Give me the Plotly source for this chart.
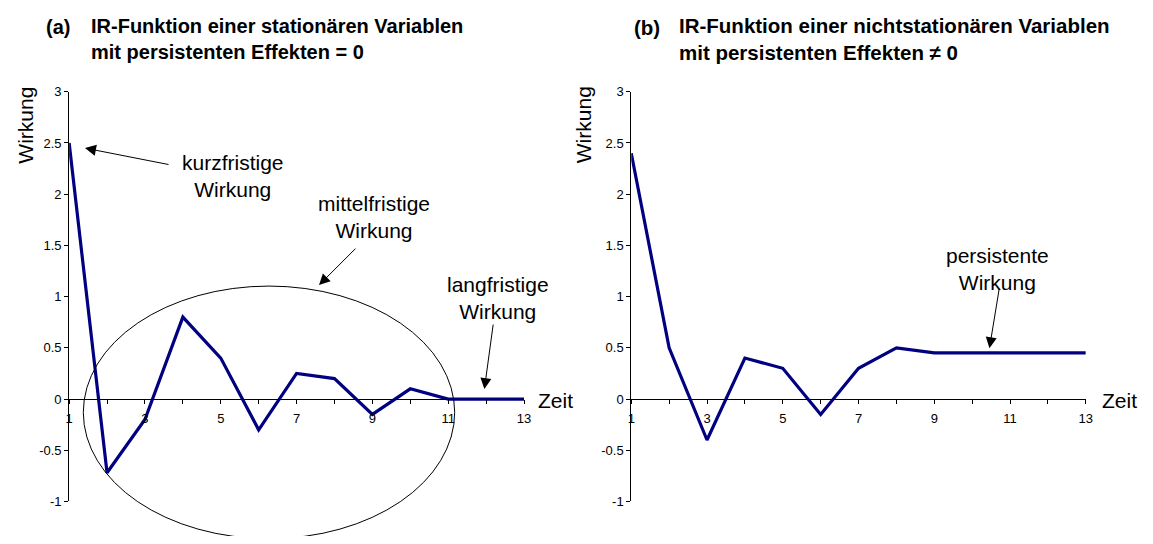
import plotly.graph_objects as go
from plotly.subplots import make_subplots

# Data
zeit = list(range(1, 14))
wirkung_stationaer = [2.5, -0.72, -0.2, 0.8, 0.4, -0.3, 0.25, 0.2, -0.15, 0.1, 0.0, 0.0, 0.0]
wirkung_nichtstationaer = [2.4, 0.5, -0.4, 0.4, 0.3, -0.15, 0.3, 0.5, 0.45, 0.45, 0.45, 0.45, 0.45]

x_tickvals = list(range(1, 14))
x_ticktext = ["1", "", "3", "", "5", "", "7", "", "9", "", "11", "", "13"]
y_tickvals = [-1, -0.5, 0, 0.5, 1, 1.5, 2, 2.5, 3]
y_ticktext = ["-1", "-0.5", "0", "0.5", "1", "1.5", "2", "2.5", "3"]

# the page body keeps its default 8px margin, so the figure is sized to fit
# inside the window and all positions below are given in window pixels
OFF = 8
W, H = 1153 - 2 * OFF, 544 - 2 * OFF
FONT = "Arial, Liberation Sans, sans-serif"
LINE_COLOR = "#000080"


def px(x):
    return (x - OFF) / W


def py(y):
    return 1 - (y - OFF) / H


fig = make_subplots(rows=1, cols=2)

fig.add_trace(
    go.Scatter(x=zeit, y=wirkung_stationaer, mode="lines",
               line=dict(color=LINE_COLOR, width=3.2), showlegend=False),
    row=1, col=1,
)
fig.add_trace(
    go.Scatter(x=zeit, y=wirkung_nichtstationaer, mode="lines",
               line=dict(color=LINE_COLOR, width=3.2), showlegend=False),
    row=1, col=2,
)

# plot areas: left 65.7..525, right 633.3..1092.3, y=3 at 87, y=-1 at 508.7
y_dom = [py(508.7), py(87)]
zero_pos = y_dom[0] + 0.25 * (y_dom[1] - y_dom[0])

axis_common = dict(
    showline=True, linecolor="black", linewidth=1,
    ticks="outside", ticklen=4, tickcolor="black", tickwidth=1,
    showgrid=False, zeroline=False,
    tickfont=dict(family=FONT, size=13, color="black"),
)

for i, (x0, x1) in enumerate([(65.7, 525.0), (633.3, 1092.3)], start=1):
    sfx = "" if i == 1 else str(i)
    fig.update_layout({
        f"xaxis{sfx}": dict(
            axis_common, domain=[px(x0), px(x1)], range=[1, 13],
            tickmode="array", tickvals=x_tickvals, ticktext=x_ticktext,
            anchor="free", position=zero_pos, ticklabelstandoff=3,
        ),
        f"yaxis{sfx}": dict(
            axis_common, domain=y_dom, range=[-1, 3],
            tickmode="array", tickvals=y_tickvals, ticktext=y_ticktext,
            anchor=f"x{sfx}",
        ),
    })

annotations = []


def text(x, y, s, size=21, anchor="center", angle=0):
    annotations.append(dict(
        x=px(x), y=py(y), xref="paper", yref="paper", text=s,
        showarrow=False, xanchor=anchor, yanchor="middle",
        align="left" if anchor == "left" else "center",
        textangle=angle,
        font=dict(family=FONT, size=size, color="black"),
    ))


def arrow(head, tail):
    annotations.append(dict(
        x=px(head[0]), y=py(head[1]), xref="paper", yref="paper", text="",
        showarrow=True, ax=tail[0] - head[0], ay=tail[1] - head[1],
        arrowhead=2, arrowsize=2.2, arrowwidth=1, arrowcolor="black",
    ))


# titles
text(40, 20.5, "<b>(a)</b>", size=20, anchor="left")
text(86, 33, "<b>IR-Funktion einer stationären Variablen<br>mit persistenten Effekten = 0</b>", size=20, anchor="left")
text(634, 20.5, "<b>(b)</b>", size=20.5, anchor="left")
text(680, 33, "<b>IR-Funktion einer nichtstationären Variablen<br>mit persistenten Effekten ≠ 0</b>", size=20.5, anchor="left")

# axis titles
text(22, 121, "Wirkung", angle=-90)
text(585, 121, "Wirkung", angle=-90)
text(537, 405, "Zeit", anchor="left")
text(1107, 405, "Zeit", anchor="left")

# callouts
text(231.5, 174, "kurzfristige<br>Wirkung")
arrow((81.7, 145), (166.7, 161.7))
text(374, 216, "mittelfristige<br>Wirkung")
arrow((318, 286), (356, 248))
text(499, 299, "langfristige<br>Wirkung")
arrow((485, 393), (494, 327))
text(1003, 269, "persistente<br>Wirkung")
arrow((995, 351), (1005, 290))

fig.update_layout(
    width=W, height=H,
    margin=dict(l=0, r=0, t=0, b=0),
    plot_bgcolor="white", paper_bgcolor="white",
    showlegend=False,
    annotations=annotations,
    shapes=[dict(
        type="circle", xref="paper", yref="paper",
        x0=px(80), x1=px(455), y0=py(547), y1=py(287),
        line=dict(color="black", width=1),
    )],
)

fig.write_html("out.html")
